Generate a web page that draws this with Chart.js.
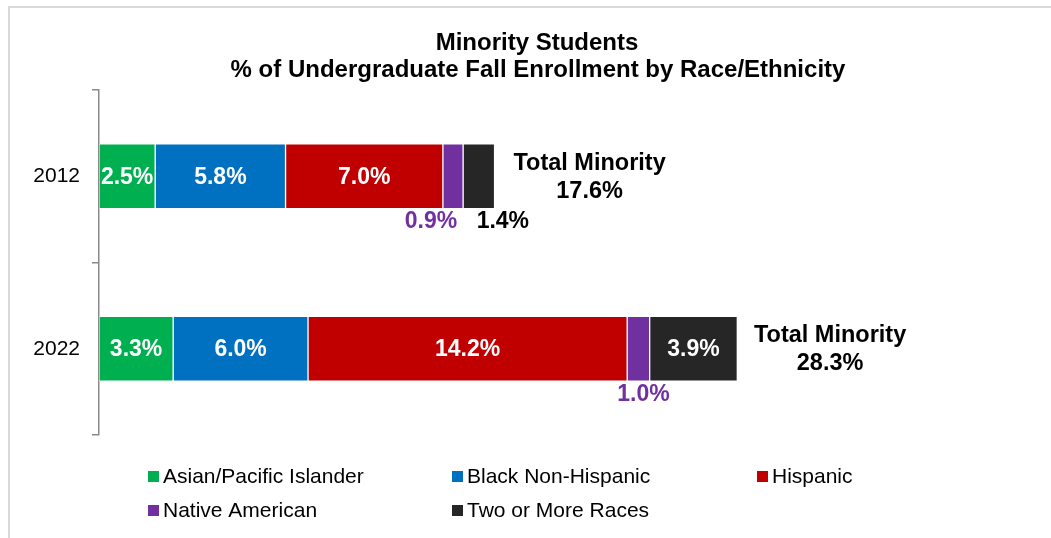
<!DOCTYPE html>
<html>
<head>
<meta charset="utf-8">
<script src="https://cdn.jsdelivr.net/npm/chart.js@4.4.1/dist/chart.umd.min.js"></script>
<style>
  html, body { margin: 0; padding: 0; background: #ffffff; }
  #wrap { width: 1051px; height: 538px; position: relative; }
</style>
</head>
<body>
<div id="wrap"><canvas id="c" width="1051" height="538"></canvas></div>
<script>
const years = ['2012', '2022'];
const seriesNames = ['Asian/Pacific Islander', 'Black Non-Hispanic', 'Hispanic', 'Native American', 'Two or More Races'];
const asianPacific = [2.5, 3.3];
const blackNonHispanic = [5.8, 6.0];
const hispanic = [7.0, 14.2];
const nativeAmerican = [0.9, 1.0];
const twoOrMore = [1.4, 3.9];
const totalMinority = [17.6, 28.3];
const titleLines = ['Minority Students', '% of Undergraduate Fall Enrollment by Race/Ethnicity'];

const colors = ['#00B050', '#0070C0', '#C00000', '#7030A0', '#262626'];
const seriesValues = [asianPacific, blackNonHispanic, hispanic, nativeAmerican, twoOrMore];

// label placement per [dataset][category]
const placement = {
  '3-0': { below: true, color: '#7030A0', dx: -22 },
  '4-0': { below: true, color: '#000000', dx: 24 },
  '3-1': { below: true, color: '#7030A0', dx: 5 }
};

const FONT = "'Liberation Sans', Arial, sans-serif";

const decorPlugin = {
  id: 'decor',
  beforeDraw(chart) {
    const ctx = chart.ctx;
    ctx.save();
    ctx.strokeStyle = '#d9d9d9';
    ctx.lineWidth = 2;
    ctx.beginPath();
    ctx.moveTo(9, 538);
    ctx.lineTo(9, 7);
    ctx.lineTo(1051, 7);
    ctx.stroke();
    // title
    ctx.fillStyle = '#000';
    ctx.font = 'bold 24px ' + FONT;
    ctx.textAlign = 'center';
    ctx.textBaseline = 'middle';
    ctx.fillText(titleLines[0], 537, 43);
    ctx.fillText(titleLines[1], 538, 70);
    ctx.restore();
  },
  afterDatasetsDraw(chart) {
    const ctx = chart.ctx;
    ctx.save();
    ctx.textAlign = 'center';
    ctx.textBaseline = 'middle';
    chart.data.datasets.forEach((ds, di) => {
      const meta = chart.getDatasetMeta(di);
      meta.data.forEach((bar, i) => {
        const v = ds.data[i];
        const txt = v.toFixed(1) + '%';
        const left = Math.min(bar.x, bar.base), right = Math.max(bar.x, bar.base);
        const cx = (left + right) / 2;
        const p = placement[di + '-' + i];
        ctx.font = 'bold 23px ' + FONT;
        if (p && p.below) {
          ctx.fillStyle = p.color;
          ctx.fillText(txt, cx + p.dx, bar.y + bar.height / 2 + 13);
        } else {
          ctx.fillStyle = '#ffffff';
          ctx.fillText(txt, cx, bar.y + 1);
        }
      });
    });
    // totals
    const lastMeta = chart.getDatasetMeta(chart.data.datasets.length - 1);
    lastMeta.data.forEach((bar, i) => {
      const end = chart.scales.x.getPixelForValue(totalMinority[i]);
      ctx.fillStyle = '#000';
      ctx.font = 'bold 23.5px ' + FONT;
      ctx.fillText('Total Minority', end + 95, bar.y - 13);
      ctx.fillText(totalMinority[i].toFixed(1) + '%', end + 95, bar.y + 15);
    });
    // legend
    const legendPos = [[148, 476], [452, 476], [757, 476], [148, 510], [452, 510]];
    ctx.textAlign = 'left';
    ctx.font = '21px ' + FONT;
    seriesNames.forEach((name, k) => {
      const [lx, ly] = legendPos[k];
      ctx.fillStyle = colors[k];
      ctx.fillRect(lx, ly - 5, 11, 11);
      ctx.fillStyle = '#000';
      ctx.fillText(name, lx + 15, ly + 1);
    });
    ctx.restore();
  }
};

new Chart(document.getElementById('c'), {
  type: 'bar',
  data: {
    labels: years,
    datasets: seriesNames.map((n, k) => ({
      label: n,
      data: seriesValues[k],
      backgroundColor: colors[k],
      borderColor: 'rgba(255,255,255,0.55)',
      borderWidth: 1,
      borderSkipped: false,
      barThickness: 65
    }))
  },
  options: {
    indexAxis: 'y',
    responsive: false,
    animation: false,
    devicePixelRatio: 1,
    layout: { padding: { left: 0, right: 8, top: 90, bottom: 103 } },
    plugins: {
      legend: { display: false },
      title: { display: false },
      tooltip: { enabled: false }
    },
    scales: {
      x: {
        stacked: true,
        display: false,
        min: 0,
        max: 42
      },
      y: {
        stacked: true,
        afterFit(scale) { scale.width = 99; },
        border: { display: true, color: '#8a8a8a', width: 1.5 },
        grid: { drawOnChartArea: false, drawTicks: true, tickLength: 7, color: '#8a8a8a', lineWidth: 1.5, offset: true },
        ticks: { color: '#000', font: { family: FONT, size: 21 }, padding: 12 }
      }
    }
  },
  plugins: [decorPlugin]
});
</script>
</body>
</html>
